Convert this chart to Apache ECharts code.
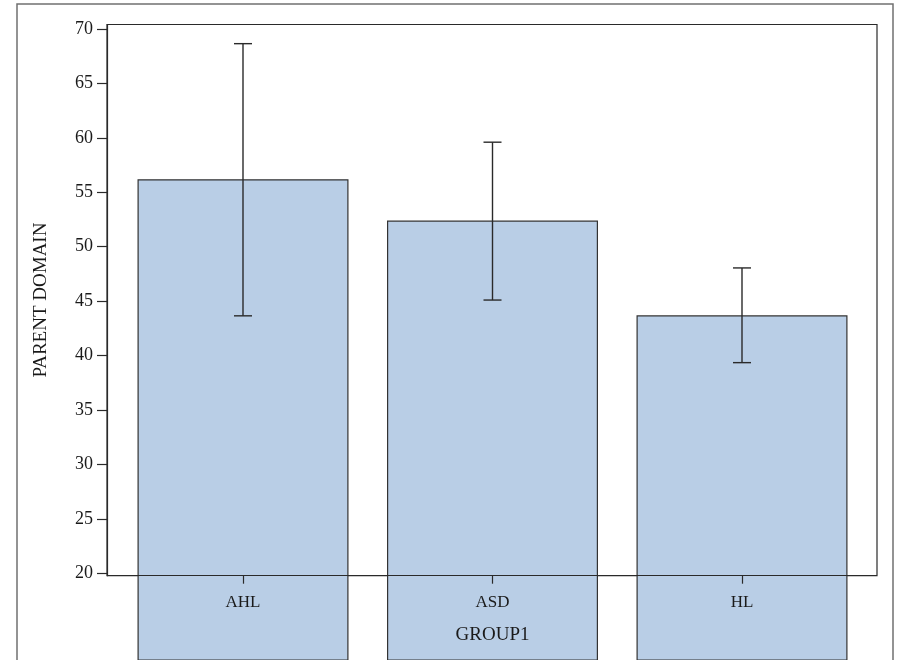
<!DOCTYPE html>
<html>
<head>
<meta charset="utf-8">
<style>
  html, body { margin: 0; padding: 0; background: #fff; }
  #chart { width: 900px; height: 660px; }
</style>
<script src="https://cdn.jsdelivr.net/npm/echarts@6/dist/echarts.min.js"></script>
</head>
<body>
<div id="chart"></div>
<script>
// Group means of the parent-domain score with their error-bar limits
const groups = ['AHL', 'ASD', 'HL'];
const means = [56.2, 52.4, 43.7];
const lowerLimits = [43.65, 45.1, 39.35];
const upperLimits = [68.65, 59.6, 48.05];
const yTicks = [20, 25, 30, 35, 40, 45, 50, 55, 60, 65, 70];

// Value range of the framed plot area (slightly padded around the ticks)
const frameMin = 19.78, frameMax = 70.41;

const serif = '"Liberation Serif", "Times New Roman", serif';
const textColor = '#1a1a1a';
const lineColor = '#2a2a2a';

// Both grids share the same pixel scale per unit; the bar grid runs
// down to the bottom edge so the bars continue past the axis line
const frameTop = 24.5, frameHeight = 551.2;
const pxPerUnit = frameHeight / (frameMax - frameMin);
const barGridHeight = 660 - frameTop;
const barBaseline = frameMax - barGridHeight / pxPerUnit;
const axisShift = barGridHeight - frameHeight;

const chart = echarts.init(document.getElementById('chart'), null, { renderer: 'canvas' });

const errorData = groups.map((g, i) => [i, lowerLimits[i], upperLimits[i]]);

chart.setOption({
  animation: false,
  backgroundColor: '#fff',
  graphic: [{
    type: 'rect',
    shape: { x: 17, y: 4, width: 876, height: 700 },
    style: { fill: 'none', stroke: '#707070', lineWidth: 1.5 },
    silent: true,
    z: 0
  }],
  grid: [
    { // plot frame
      left: 107, top: frameTop, width: 770, height: frameHeight,
      outerBoundsMode: 'none', containLabel: false,
      show: true, borderColor: lineColor, borderWidth: 1.2, backgroundColor: 'transparent'
    },
    { // bars
      left: 118.25, top: frameTop, width: 748.5, height: barGridHeight,
      outerBoundsMode: 'none', containLabel: false
    }
  ],
  xAxis: [
    { gridIndex: 0, type: 'category', data: groups, show: false },
    {
      gridIndex: 1, type: 'category', data: groups,
      offset: -axisShift,
      z: 10,
      axisLine: { show: true, lineStyle: { color: lineColor, width: 1.2 } },
      axisTick: { show: true, alignWithLabel: true, length: 8, lineStyle: { color: lineColor, width: 1.2 } },
      axisLabel: { color: textColor, fontFamily: serif, fontSize: 17, margin: 18 },
      name: 'GROUP1',
      nameLocation: 'middle',
      nameGap: 50,
      nameTextStyle: { color: textColor, fontFamily: serif, fontSize: 19 }
    }
  ],
  yAxis: [
    {
      gridIndex: 0, type: 'value', min: frameMin, max: frameMax,
      splitLine: { show: false },
      axisLine: { show: true, lineStyle: { color: lineColor, width: 1.2 } },
      axisTick: { show: true, length: 10, customValues: yTicks, lineStyle: { color: lineColor, width: 1.2 } },
      axisLabel: { color: textColor, fontFamily: serif, fontSize: 18, margin: 14, customValues: yTicks },
      name: 'PARENT DOMAIN',
      nameLocation: 'middle',
      nameRotate: 90,
      nameGap: 56,
      nameTextStyle: { color: textColor, fontFamily: serif, fontSize: 19 }
    },
    {
      gridIndex: 1, type: 'value', min: barBaseline, max: frameMax, show: false,
      splitLine: { show: false }
    }
  ],
  series: [
    {
      type: 'bar',
      xAxisIndex: 1, yAxisIndex: 1,
      data: means,
      barWidth: 211,
      itemStyle: { color: '#B9CEE6', borderColor: '#333', borderWidth: 1.2 },
      z: 2
    },
    {
      type: 'custom',
      xAxisIndex: 1, yAxisIndex: 1,
      data: errorData,
      z: 4,
      renderItem: function (params, api) {
        const x = api.value(0);
        const lo = api.coord([x, api.value(1)]);
        const hi = api.coord([x, api.value(2)]);
        const cap = 9;
        const style = { stroke: '#2a2a2a', lineWidth: 1.4 };
        return {
          type: 'group',
          children: [
            { type: 'line', shape: { x1: hi[0], y1: hi[1], x2: lo[0], y2: lo[1] }, style: style },
            { type: 'line', shape: { x1: hi[0] - cap, y1: hi[1], x2: hi[0] + cap, y2: hi[1] }, style: style },
            { type: 'line', shape: { x1: lo[0] - cap, y1: lo[1], x2: lo[0] + cap, y2: lo[1] }, style: style }
          ]
        };
      }
    }
  ]
});
</script>
</body>
</html>
